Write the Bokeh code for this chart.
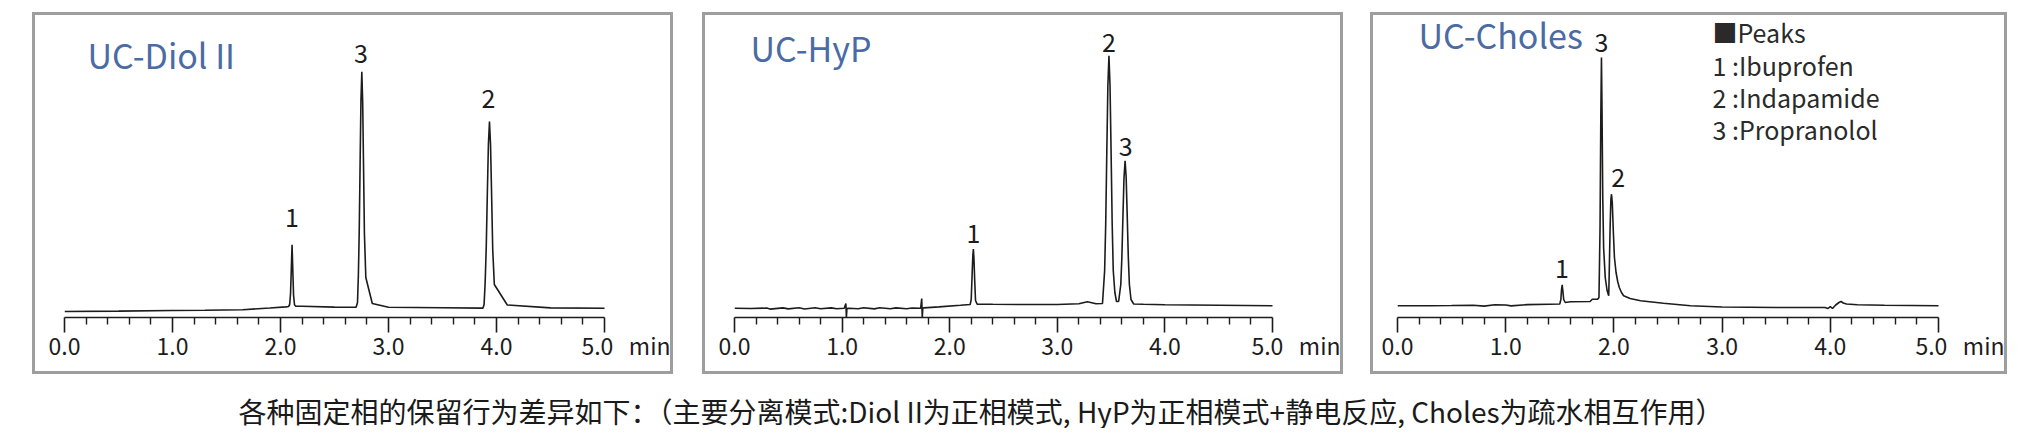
from bokeh.plotting import figure
from bokeh.layouts import row, column
from bokeh.models import Range1d, FixedTicker, Spacer
from bokeh.core.properties import value
from bokeh.embed import file_html
from bokeh.resources import INLINE

FONT = "Noto Sans CJK SC"

# ---------------- data ----------------
major_ticks = [0, 1, 2, 3, 4, 5]
tick_labels = ["0.0", "1.0", "2.0", "3.0", "4.0", "5.0"]
minor_ticks = [0.2, 0.4, 0.6, 0.8, 1.2, 1.4, 1.6, 1.8, 2.2, 2.4, 2.6, 2.8,
               3.2, 3.4, 3.6, 3.8, 4.2, 4.4, 4.6, 4.8]
axis_unit = "min"

titles = ["UC-Diol II", "UC-HyP", "UC-Choles"]

# UC-Diol II trace (time in min, response)
diol_t = [0.0, 0.5, 1.0, 1.3, 1.65, 1.9, 2.05, 2.075, 2.085, 2.093, 2.1, 2.107,
          2.114, 2.121, 2.13, 2.142, 2.2, 2.5, 2.7, 2.713, 2.721, 2.729, 2.737,
          2.745, 2.753, 2.761, 2.769, 2.777, 2.79, 2.85, 3.0, 3.5, 3.86, 3.875,
          3.885, 3.895, 3.905, 3.915, 3.925, 3.935, 3.945, 3.955, 3.965, 3.98,
          4.1, 4.5, 5.0, 5.02]
diol_y = [6.0, 6.4, 7.0, 7.3, 7.8, 9.5, 10.6, 11.0, 13.0, 24.0, 48.0, 72.7,
          47.0, 22.0, 12.5, 11.3, 11.2, 10.4, 10.2, 15.0, 42.0, 86.0, 153.0,
          217.0, 245.7, 215.0, 150.0, 84.0, 40.0, 14.0, 10.2, 9.7, 9.4, 9.4,
          13.0, 35.0, 70.0, 123.0, 173.0, 196.0, 172.0, 121.0, 68.0, 33.0,
          12.5, 9.6, 9.2, 9.0, 8.5]
diol_lab_t = [2.107, 2.745, 3.925]
diol_lab_y = [100.5, 264.5, 219.5]
diol_lab = ["1", "3", "2"]

# UC-HyP trace
hyp_t = [0.0, 0.15, 0.3, 0.33, 0.45, 0.5, 0.6, 0.65, 0.75, 0.8, 0.9, 0.95,
         1.02, 1.035, 1.04, 1.045, 1.06, 1.15, 1.2, 1.3, 1.35, 1.45, 1.5, 1.6,
         1.65, 1.73, 1.74, 1.745, 1.75, 1.76, 1.9, 2.1, 2.19, 2.2, 2.208, 2.215,
         2.22, 2.225, 2.232, 2.24, 2.255, 2.4, 2.7, 3.0, 3.2, 3.28, 3.36, 3.42,
         3.44, 3.45, 3.46, 3.47, 3.48, 3.49, 3.5, 3.51, 3.52, 3.535, 3.55, 3.57,
         3.59, 3.6, 3.61, 3.62, 3.63, 3.64, 3.65, 3.66, 3.67, 3.685, 3.71, 3.8,
         4.0, 4.5, 5.0, 5.02]
hyp_y = [9.2, 9.0, 9.4, 8.4, 9.6, 8.6, 9.8, 8.5, 9.7, 8.7, 9.6, 8.8, 9.2,
         14.0, 0.0, 9.0, 9.3, 8.7, 9.7, 8.6, 9.8, 8.7, 9.6, 8.8, 9.5, 9.2, 19.0,
         -0.5, 9.5, 9.6, 10.6, 12.2, 13.0, 18.0, 42.0, 62.0, 68.4, 60.0, 38.0,
         17.0, 13.4, 13.2, 13.0, 13.0, 13.7, 15.7, 13.7, 14.0, 47.0, 94.0,
         165.0, 232.0, 261.7, 232.0, 165.0, 94.0, 47.0, 25.0, 16.0, 16.0, 33.0,
         60.0, 101.0, 140.0, 156.7, 140.0, 101.0, 60.0, 33.0, 18.0, 13.5, 13.2,
         12.7, 12.2, 11.7, 11.7]
hyp_lab_t = [2.22, 3.48, 3.635]
hyp_lab_y = [84.5, 275.5, 171.5]
hyp_lab = ["1", "2", "3"]

# UC-Choles trace
chol_t = [0.0, 0.3, 0.5, 0.7, 0.8, 0.9, 1.0, 1.05, 1.2, 1.4, 1.5, 1.51, 1.516,
          1.522, 1.528, 1.536, 1.55, 1.6, 1.78, 1.8, 1.85, 1.862, 1.872, 1.879,
          1.885, 1.89, 1.897, 1.905, 1.92, 1.937, 1.952, 1.956, 1.965, 1.972,
          1.978, 1.985, 1.995, 2.005, 2.02, 2.035, 2.05, 2.07, 2.09, 2.15,
          2.246, 2.458, 2.708, 3.0, 3.5, 3.95, 3.98, 4.0, 4.02, 4.05, 4.08,
          4.1, 4.12, 4.15, 4.25, 4.5, 5.0, 5.02]
chol_y = [11.7, 11.8, 12.0, 12.3, 11.4, 12.8, 12.5, 11.6, 12.9, 13.3, 13.5,
          18.0, 28.0, 32.7, 27.0, 18.0, 15.0, 15.7, 16.0, 18.3, 18.3, 20.0,
          90.0, 200.0, 260.0, 210.0, 120.0, 70.0, 40.0, 27.0, 21.7, 40.0, 90.0,
          118.0, 123.3, 115.0, 85.0, 60.0, 45.0, 36.0, 30.0, 25.0, 21.7, 19.0,
          16.7, 14.3, 11.7, 10.5, 10.0, 10.0, 9.0, 11.0, 9.0, 12.5, 15.0, 16.0,
          14.5, 13.5, 12.8, 12.2, 11.7, 11.7]
chol_lab_t = [1.52, 1.885, 2.04]
chol_lab_y = [49.0, 275.0, 140.0]
chol_lab = ["1", "3", "2"]

legend_lines = ["■Peaks", "1 :Ibuprofen", "2 :Indapamide", "3 :Propranolol"]

caption = ("各种固定相的保留行为差异如下：（主要分离模式:Diol II为正相模式, "
           "HyP为正相模式+静电反应, Choles为疏水相互作用）")

# ---------------- drawing ----------------
TITLE_COLOR = "#4a6ba3"
INK = "#1c1c1c"
NB = "\u00a0"
BOX = "3px solid #9e9e9e"

# the last tick label carries the unit; padding keeps "5.0" centred on its tick
labels_override = dict(zip(major_ticks, tick_labels))
labels_override[major_ticks[-1]] = NB * 10 + tick_labels[-1] + NB * 3 + axis_unit


def panel(width, left, right, t, y, lab_t, lab_y, lab, title, title_x, title_y):
    p = figure(width=width, height=362, x_range=Range1d(0, 5), y_range=Range1d(0, 302),
               min_border_left=left, min_border_right=right, min_border_top=0,
               min_border_bottom=60, y_axis_location=None, toolbar_location=None,
               output_backend="svg", outline_line_color=None,
               styles={"border": BOX})
    p.xgrid.visible = False
    p.ygrid.visible = False
    ax = p.xaxis[0]
    ax.ticker = FixedTicker(ticks=major_ticks, minor_ticks=minor_ticks)
    ax.major_label_overrides = labels_override
    ax.axis_line_width = 1.6
    ax.axis_line_color = INK
    ax.major_tick_out = 15
    ax.major_tick_in = 0
    ax.minor_tick_out = 7
    ax.minor_tick_in = 0
    ax.major_tick_line_width = 1.6
    ax.minor_tick_line_width = 1.4
    ax.major_tick_line_color = INK
    ax.minor_tick_line_color = INK
    ax.major_label_text_font = FONT
    ax.major_label_text_font_size = "23px"
    ax.major_label_text_color = INK
    ax.major_label_standoff = -5

    p.line(t, y, line_color=INK, line_width=1.6)
    p.text(x=lab_t, y=lab_y, text=lab, text_align="center", text_baseline="middle",
           text_font=value(FONT), text_font_size="25px", text_color=INK)
    p.text(x=[title_x], y=[title_y], text=[title], text_align="left",
           text_baseline="middle", text_font=value(FONT), text_font_size="34px",
           text_color=TITLE_COLOR)
    return p


p1 = panel(641, 29, 72, diol_t, diol_y, diol_lab_t, diol_lab_y, diol_lab,
           titles[0], 0.213, 263.5)
p2 = panel(641, 29, 74, hyp_t, hyp_y, hyp_lab_t, hyp_lab_y, hyp_lab,
           titles[1], 0.149, 270.5)
p3 = panel(637, 24, 72, chol_t, chol_y, chol_lab_t, chol_lab_y, chol_lab,
           titles[2], 0.194, 283.0)

p3.text(x=[2.911] * 4, y=[286.0, 253.0, 221.0, 189.0], text=legend_lines,
        text_align="left", text_baseline="middle", text_font=value(FONT),
        text_font_size="25px", text_color="#2a2a2a")

cap = figure(width=2010, height=54, x_range=Range1d(0, 2010), y_range=Range1d(0, 54),
             x_axis_location=None, y_axis_location=None, toolbar_location=None,
             output_backend="svg", outline_line_color=None, min_border=0,
             background_fill_color=None, border_fill_color=None)
cap.xgrid.visible = False
cap.ygrid.visible = False
cap.text(x=[238], y=[18], text=[caption], text_align="left", text_baseline="middle",
         text_font=value(FONT), text_font_size="28px", text_color="#1a1a1a")

layout = column(
    Spacer(height=12),
    row(Spacer(width=32), p1, Spacer(width=29), p2, Spacer(width=27), p3),
    cap,
)

open("out.html", "w").write(file_html(layout, INLINE))
